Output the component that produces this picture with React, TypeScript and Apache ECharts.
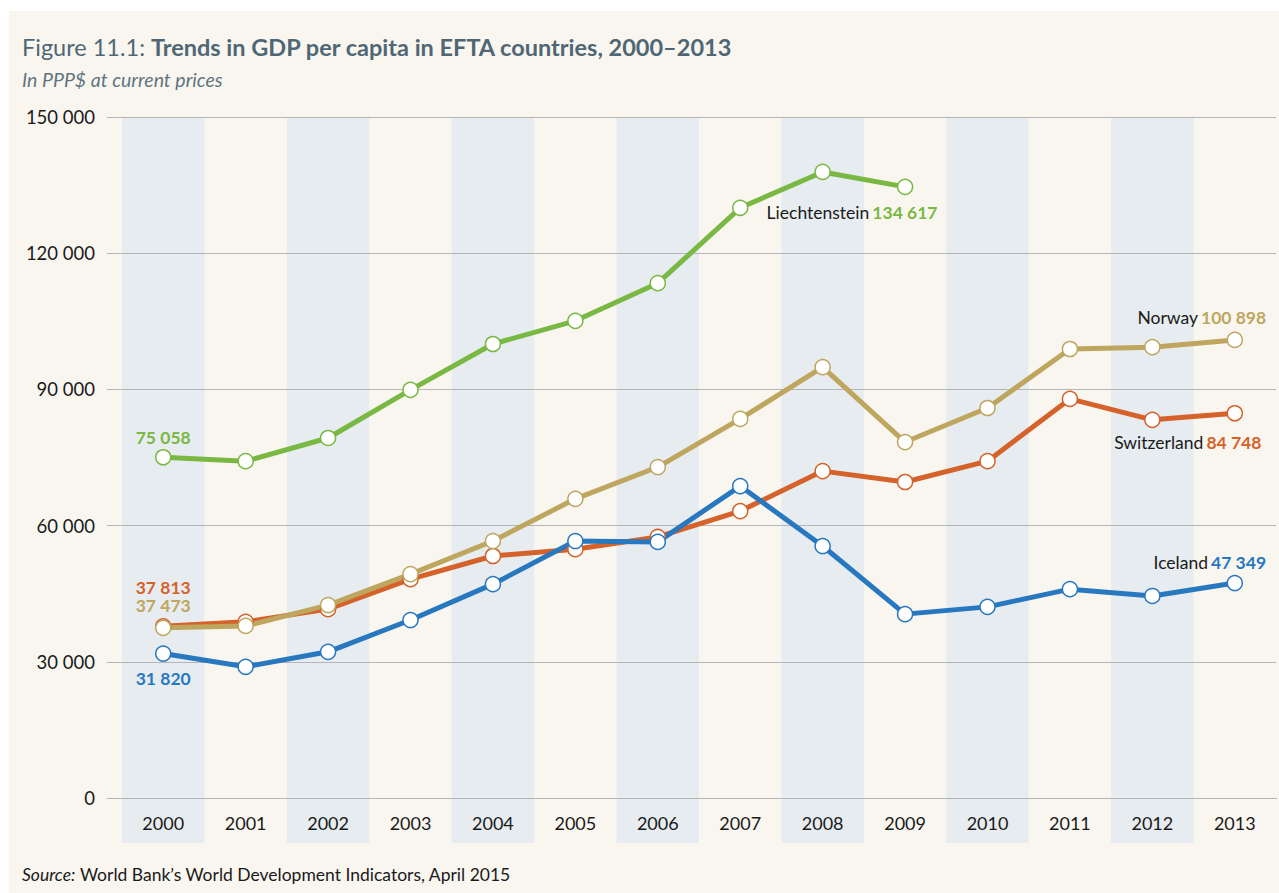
import React, { useEffect, useRef } from "react";
import * as echarts from "echarts";

const years = ["2000", "2001", "2002", "2003", "2004", "2005", "2006", "2007", "2008", "2009", "2010", "2011", "2012", "2013"];
const liechtenstein = [75058, 74200, 79300, 89900, 100000, 105100, 113400, 130000, 137900, 134617, null, null, null, null];
const norway = [37473, 37900, 42500, 49300, 56600, 65900, 72900, 83500, 94900, 78400, 85900, 98900, 99300, 100898];
const switzerland = [37813, 38800, 41600, 48200, 53300, 54800, 57500, 63200, 72000, 69600, 74200, 87900, 83300, 84748];
const iceland = [31820, 28900, 32200, 39200, 47100, 56600, 56400, 68700, 55500, 40500, 42100, 46000, 44500, 47349];
const yTicks = [0, 30000, 60000, 90000, 120000, 150000];

const FONT = "Lato";
const fmt = (v: number) => String(v).replace(/\B(?=(\d{3})+(?!\d))/g, " ");

type LabelSpec = { idx: number; name?: string; offset: [number, number] };

function makeSeries(name: string, values: (number | null)[], color: string, labels: LabelSpec[]) {
  const data = values.map((v, i) => {
    const spec = labels.find((l) => l.idx === i);
    if (!spec || v === null) return v === null ? "-" : v;
    return {
      value: v,
      label: {
        show: true,
        position: "inside",
        offset: spec.offset,
        formatter: spec.name ? `{n|${spec.name}} {v|${fmt(v)}}` : `{v|${fmt(v)}}`,
        rich: {
          n: { color: "#1a1a1a", fontSize: 17.5, fontWeight: "normal", fontFamily: FONT },
          v: { color, fontSize: 17.5, fontWeight: "bold", fontFamily: FONT, lineHeight: spec.name ? undefined : 15 },
        },
      },
    };
  });
  return {
    name,
    type: "line",
    data,
    symbol: "circle",
    symbolSize: 15,
    showAllSymbol: true,
    connectNulls: false,
    lineStyle: { color, width: 5 },
    itemStyle: { color: "#ffffff", borderColor: color, borderWidth: 1.5 },
    emphasis: { disabled: true },
    z: 3,
  };
}

export default function App() {
  const ref = useRef<HTMLDivElement>(null);
  useEffect(() => {
    if (!ref.current) return;
    const chart = echarts.init(ref.current, null, { renderer: "svg" });
    const green = "#79b843";
    const tan = "#bfa65f";
    const orange = "#d5622a";
    const blue = "#2878c0";
    const band = "#e6ecef";
    chart.setOption({
      animation: false,
      textStyle: { fontFamily: FONT },
      graphic: [
        { type: "rect", left: 9, top: 11, shape: { width: 1270, height: 882 }, style: { fill: "#f9f6f0" }, z: -10, silent: true },
      ],
      title: [
        {
          text: "{a|Figure 11.1: }{b|Trends in GDP per capita in EFTA countries, 2000–2013}",
          left: 22,
          top: 35,
          textStyle: {
            rich: {
              a: { fontSize: 23.5, color: "#4f6775", fontFamily: FONT, fontWeight: "normal" },
              b: { fontSize: 23.5, color: "#4f6775", fontFamily: FONT, fontWeight: "bold" },
            },
          },
          subtext: "In PPP$ at current prices",
          subtextStyle: { fontSize: 19.5, fontStyle: "italic", color: "#5f7581", fontFamily: FONT },
          itemGap: 10,
          padding: 0,
        },
        {
          text: "{i|Source:} {t|World Bank’s World Development Indicators, April 2015}",
          left: 22,
          top: 865,
          padding: 0,
          textStyle: {
            fontWeight: "normal",
            rich: {
              i: { fontSize: 17.5, fontStyle: "italic", fontWeight: "normal", color: "#1a1a1a", fontFamily: FONT },
              t: { fontSize: 17.5, fontWeight: "normal", color: "#1a1a1a", fontFamily: FONT },
            },
          },
        },
      ],
      grid: [
        { left: 122, right: 3, top: 117, bottom: 95 },
        { left: 122, right: 3, top: 798, height: 45 },
      ],
      xAxis: [
        {
          type: "category",
          data: years,
          gridIndex: 0,
          boundaryGap: true,
          axisLine: { show: true, lineStyle: { color: "#555555", width: 1.2 } },
          axisTick: { show: false },
          axisLabel: { color: "#1a1a1a", fontSize: 18, margin: 16, fontFamily: FONT },
          splitLine: { show: false },
          splitArea: { show: true, areaStyle: { color: [band, "rgba(0,0,0,0)"] } },
          z: 1,
        },
        {
          type: "category",
          data: years,
          gridIndex: 1,
          boundaryGap: true,
          axisLine: { show: false },
          axisTick: { show: false },
          axisLabel: { show: false },
          splitLine: { show: false },
          splitArea: { show: true, areaStyle: { color: [band, "rgba(0,0,0,0)"] } },
          z: 0,
        },
      ],
      yAxis: [
        {
          type: "value",
          gridIndex: 0,
          min: yTicks[0],
          max: yTicks[yTicks.length - 1],
          interval: yTicks[1] - yTicks[0],
          axisLine: { show: false },
          axisTick: { show: true, length: 15, lineStyle: { color: "#b5b5b5" } },
          axisLabel: { color: "#1a1a1a", fontSize: 18.5, margin: 27, formatter: (v: number) => fmt(v), fontFamily: FONT },
          splitLine: { show: true, lineStyle: { color: "#b5b5b5", width: 1 } },
          z: 2,
        },
        { type: "value", gridIndex: 1, min: 0, max: 1, show: false },
      ],
      series: [
        makeSeries("Switzerland", switzerland, orange, [
          { idx: 0, offset: [0, -39] },
          { idx: 13, name: "Switzerland", offset: [-47, 29] },
        ]),
        makeSeries("Norway", norway, tan, [
          { idx: 0, offset: [0, -22] },
          { idx: 13, name: "Norway", offset: [-33, -22] },
        ]),
        makeSeries("Iceland", iceland, blue, [
          { idx: 0, offset: [0, 25] },
          { idx: 13, name: "Iceland", offset: [-25, -21] },
        ]),
        makeSeries("Liechtenstein", liechtenstein, green, [
          { idx: 0, offset: [0, -20] },
          { idx: 9, name: "Liechtenstein", offset: [-53, 26] },
        ]),
      ],
    });
    return () => chart.dispose();
  }, []);
  return (
    <div
      ref={ref}
      style={{ position: "absolute", left: 0, top: 0, width: 1279, height: 893 }}
    />
  );
}
